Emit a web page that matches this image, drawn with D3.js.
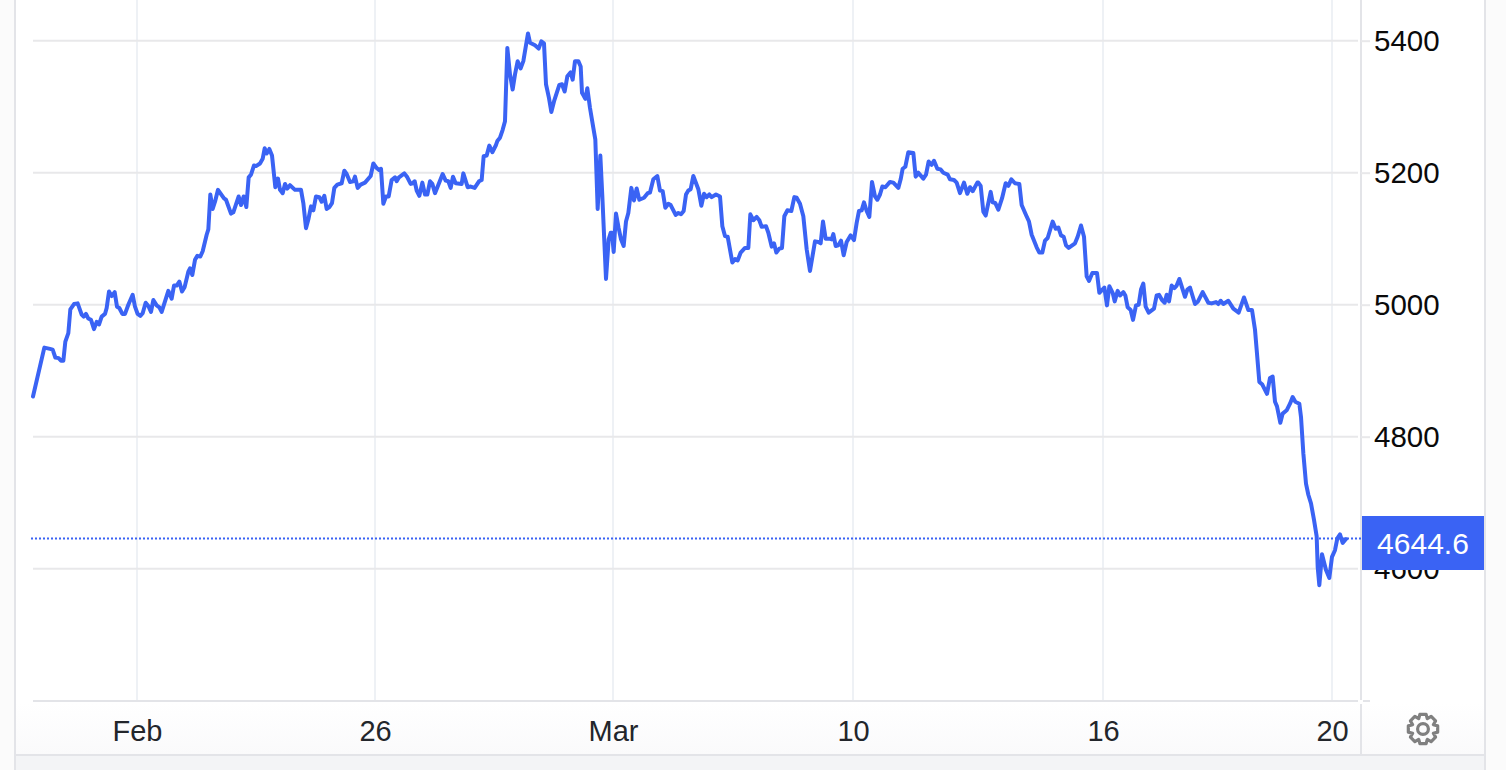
<!DOCTYPE html>
<html>
<head>
<meta charset="utf-8">
<script src="https://cdn.jsdelivr.net/npm/d3@7"></script>
<style>
html,body{margin:0;padding:0;background:#fff;overflow:hidden}
svg{display:block}
text{font-family:"Liberation Sans",Arial,sans-serif}
</style>
</head>
<body>
<svg id="chart" width="1506" height="770"></svg>
<script>
const elapsed = [0,34,51,59,67,77,84,91,97,106,112,123,134,146,152,159,166,174,183,191,198,206,216,221,228,236,245,252,259,268,276,286,299,306,314,322,329,338,346,354,361,371,379,386,406,416,423,431,439,447,455,466,471,478,486,493,502,509,521,526,532,539,546,555,573,579,594,601,617,624,632,640,647,654,663,669,681,689,695,701,709,717,727,735,741,749,756,763,771,786,804,811,819,826,834,841,849,859,866,874,881,889,897,904,913,926,934,941,951,961,966,974,983,996,1013,1021,1031,1038,1044,1051,1059,1067,1076,1086,1091,1098,1114,1123,1133,1139,1145,1151,1159,1168,1176,1183,1191,1198,1206,1229,1238,1246,1253,1260,1268,1286,1291,1304,1313,1325,1338,1346,1352,1361,1369,1378,1389,
1393,1401,1409,1416,1423,1431,1439,1446,1454,1463,1471,1485,1491,1506,1517,1525,1533,1539,1548,1555,1563,1579,1587,1595,1603,1613,1619,1626,1636,1643,1647,1657,1663,1671,1681,1687,1694,1702,1708,1719,1727,1733,1737,1742,1749,1757,1764,1772,1779,1786,1795,1803,1811,1819,1833,1844,1851,1861,1873,1881,1889,1897,1906,1913,1928,1936,1944,1952,1959,1966,1973,1981,1996,2005,2013,2021,2029,2036,2049,2061,2068,2076,2084,2098,2106,2114,2123,2136,2146,2152,2161,2171,2179,2186,2199,2206,2216,2223,2230,2239,2247,2254,2263,2275,2284,2291,2301,2311,2321,2331,2346,2356,2363,2370,2378,2389,2396,2401,2408,2416,2424,2432,2441,2453,2463,2471,2478,2486,2493,2501,2509,2517,2526,2533,2541,2548,2557,2571,2581,2596,2603,2609,2617,2626,2641,2648,2656,2671,2679,2687,2696,2703,2713,2723,2731,2744,2751,2763,2771,2781,2793,2803,2811,2819,2833,
2836,2843,2851,2858,2873,2879,2887,2896,2907,2918,2926,2935,2946,2959,2966,2979,2988,2996,3011,3019,3028,3036,3044,3059,3068,3076,3084,3092,3099,3107,3126,3134,3144,3153,3161,3168,3178,3192,3199,3214,3222,3229,3239,3245,3254,3261,3271,3277,3284,3293,3300,3309,3317,3324,3331,3338,3347,3363,3371,3378,3387,3395,3401,3408,3416,3424,3431,3439,3456,3463,3471,3486,3495,3509,3526,3536,3549,3556,3563,3571,3586,3601,3617,3633,3646,3657,3666,3671,3679,3688,3702,3711,3719,3726,3732,3742,3749,3761,3771,3779,3787,3799,3804,3811,3819,3826,3834,3843,3851,3854,3859,3867,3879,3889,3897,3906,3913,3921,3929,3939];
const price = [4861,4935,4933,4932,4920,4919,4915,4915,4944,4957,4993,5001,5002,4985,4982,4986,4979,4977,4963,4974,4970,4982,4986,4995,5020,5013,5019,4997,4995,4986,4986,5000,5015,4997,4986,4983,4987,5003,4998,4989,5007,4999,4996,4989,5021,5009,5029,5029,5035,5020,5027,5050,5055,5045,5068,5074,5073,5081,5106,5114,5167,5145,5156,5174,5161,5159,5138,5140,5164,5151,5164,5148,5193,5197,5211,5210,5214,5221,5237,5229,5236,5226,5178,5191,5174,5169,5183,5176,5181,5174,5174,5154,5116,5129,5149,5143,5164,5163,5156,5165,5145,5148,5154,5177,5182,5184,5203,5198,5186,5187,5194,5177,5182,5185,5195,5214,5207,5204,5206,5153,5164,5164,5189,5193,5187,5193,5199,5193,5183,5184,5187,5173,5165,5185,5167,5167,5187,5183,5169,5198,5188,5187,5177,5194,5184,5183,5199,5178,5179,5177,5187,5189,5225,5226,5241,5231,5242,
5248,5253,5265,5278,5389,5349,5326,5349,5369,5358,5369,5411,5397,5393,5388,5399,5396,5334,5313,5292,5308,5333,5334,5323,5346,5352,5341,5369,5369,5361,5321,5312,5328,5298,5268,5250,5145,5226,5164,5039,5099,5109,5109,5080,5138,5116,5099,5089,5126,5139,5177,5158,5176,5159,5162,5169,5170,5190,5195,5173,5172,5147,5153,5151,5136,5139,5137,5142,5167,5173,5175,5195,5175,5150,5168,5163,5167,5163,5167,5164,5119,5104,5103,5064,5069,5067,5079,5086,5086,5137,5128,5133,5128,5118,5119,5109,5088,5093,5079,5085,5086,5134,5143,5142,5163,5162,5153,5134,5084,5051,5096,5095,5093,5126,5100,5100,5099,5107,5089,5090,5097,5075,5095,5105,5098,5124,5142,5143,5155,5142,5133,5186,5164,5159,5167,5179,5178,5186,5185,5177,5190,5206,5209,5231,5230,5194,5200,5191,5197,5217,5212,5218,5206,5205,5200,5197,5190,5189,5185,5169,5185,5168,5178,5172,5185,
5185,5180,5141,5135,5171,5155,5154,5144,5161,5184,5180,5190,5184,5183,5151,5136,5126,5106,5087,5079,5079,5097,5101,5126,5115,5117,5105,5103,5090,5086,5093,5103,5120,5103,5043,5036,5048,5048,5018,5026,4999,5028,5018,5005,5021,5014,5019,5014,4996,4992,4977,4999,5000,5023,5032,4997,4988,4994,5014,5015,5007,5003,5015,5005,5029,5025,5029,5039,5012,5023,5026,5001,5005,5019,5003,5002,5004,5001,5006,5001,5006,4994,4988,5011,4992,4992,4962,4932,4883,4879,4865,4889,4891,4853,4846,4821,4835,4840,4850,4860,4853,4850,4830,4775,4729,4712,4699,4674,4649,4603,4575,4622,4598,4586,4618,4628,4646,4652,4639,4645];
const xTickLabels = ["Feb","26","Mar","10","16","20"];
const xTickAt = [312,1026,1740,2460,3210,3897];
const yTicks = [5400,5200,5000,4800,4600];
const lastPrice = 4644.6;

const BLUE="#3a63f4", GRID_H="#e8e8ea", GRID_V="#eef1f5", EDGE="#e3e4e8";
const svg=d3.select("#chart");
const x=d3.scaleLinear().domain([0,3939]).range([33,1346]);
const y=d3.scaleLinear().domain([4600,5400]).range([568.7,40.7]);

// page furniture
svg.append("rect").attr("width",1506).attr("height",770).attr("fill","#fbfbfb");
const defs=svg.append("defs");
const g=defs.append("linearGradient").attr("id","foot").attr("x1",0).attr("x2",0).attr("y1",0).attr("y2",1);
g.append("stop").attr("offset",0).attr("stop-color","#ffffff");
g.append("stop").attr("offset",1).attr("stop-color","#fafafb");
svg.append("rect").attr("x",16).attr("y",0).attr("width",1468).attr("height",703).attr("fill","#fff");
svg.append("rect").attr("x",16).attr("y",703).attr("width",1468).attr("height",52).attr("fill","url(#foot)");
svg.append("rect").attr("x",16).attr("y",756).attr("width",1468).attr("height",14).attr("fill","#f3f4f6");
svg.append("line").attr("x1",15).attr("x2",15).attr("y1",0).attr("y2",770).attr("stroke",EDGE).attr("stroke-width",2);
svg.append("line").attr("x1",1485).attr("x2",1485).attr("y1",0).attr("y2",770).attr("stroke",EDGE).attr("stroke-width",2);
svg.append("line").attr("x1",15).attr("x2",1485).attr("y1",755).attr("y2",755).attr("stroke",EDGE).attr("stroke-width",2);

// vertical grid
svg.append("g").selectAll("line").data(xTickAt).join("line")
  .attr("x1",d=>x(d)).attr("x2",d=>x(d)).attr("y1",0).attr("y2",700)
  .attr("stroke",GRID_V).attr("stroke-width",2);
// horizontal grid
svg.append("g").selectAll("line").data(yTicks).join("line")
  .attr("x1",33).attr("x2",1358).attr("y1",d=>y(d)).attr("y2",d=>y(d))
  .attr("stroke",GRID_H).attr("stroke-width",2);

// frame lines
svg.append("line").attr("x1",33).attr("x2",1358).attr("y1",701).attr("y2",701).attr("stroke",EDGE).attr("stroke-width",2);
svg.append("line").attr("x1",1361).attr("x2",1361).attr("y1",0).attr("y2",700).attr("stroke",EDGE).attr("stroke-width",2);
svg.append("line").attr("x1",1361).attr("x2",1361).attr("y1",704).attr("y2",755).attr("stroke",EDGE).attr("stroke-width",2);
svg.append("line").attr("x1",1363).attr("x2",1370).attr("y1",701).attr("y2",701).attr("stroke",EDGE).attr("stroke-width",2);

// axes
const yAxis=d3.axisRight(y).tickValues(yTicks).tickSize(9).tickPadding(4).tickFormat(d3.format("d"));
const ya=svg.append("g").attr("transform","translate(1361,0)").call(yAxis);
ya.select(".domain").remove();
ya.selectAll("line").attr("stroke",GRID_H).attr("stroke-width",2);
ya.selectAll("text").attr("fill","#0a0a0a").attr("font-size",29.5).attr("font-family",'"Liberation Sans",Arial,sans-serif');

const xAxis=d3.axisBottom(x).tickValues(xTickAt).tickSize(0).tickPadding(0).tickFormat((d,i)=>xTickLabels[i]);
const xa=svg.append("g").attr("transform","translate(0,720)").call(xAxis);
xa.select(".domain").remove();
xa.selectAll("text").attr("fill","#23262b").attr("font-size",29).attr("font-family",'"Liberation Sans",Arial,sans-serif');

// last price rule
svg.append("line").attr("x1",31).attr("x2",1361).attr("y1",y(lastPrice)-0.8).attr("y2",y(lastPrice)-0.8)
  .attr("stroke",BLUE).attr("stroke-width",2).attr("stroke-dasharray","2 2");

// series
const line=d3.line().x((d,i)=>x(d)).y((d,i)=>y(price[i]));
svg.append("path").datum(elapsed).attr("d",line).attr("fill","none").attr("stroke",BLUE)
  .attr("stroke-width",4).attr("stroke-linejoin","round").attr("stroke-linecap","round");

// last price flag
svg.append("rect").attr("x",1362).attr("y",516).attr("width",122).attr("height",54).attr("fill",BLUE);
svg.append("text").attr("x",1423).attr("y",554).attr("text-anchor","middle").attr("fill","#fff").attr("font-size",30).text(lastPrice.toFixed(1));

// settings gear
const gear=svg.append("g").attr("transform","translate(1423,729)").attr("fill","none").attr("stroke","#808080").attr("stroke-width",3.2).attr("stroke-linejoin","round");
const teeth=8, pts=[];
for(let i=0;i<teeth;i++){
  const a=i/teeth*2*Math.PI-Math.PI/2, w=0.21;
  [[11.2,-0.39],[15,-w],[15,w],[11.2,0.39]].forEach(p=>{
    pts.push([p[0]*Math.cos(a+p[1]),p[0]*Math.sin(a+p[1])]);
  });
}
gear.append("path").attr("d",d3.line().curve(d3.curveLinearClosed)(pts));
gear.append("circle").attr("r",5.4);
</script>
</body>
</html>
